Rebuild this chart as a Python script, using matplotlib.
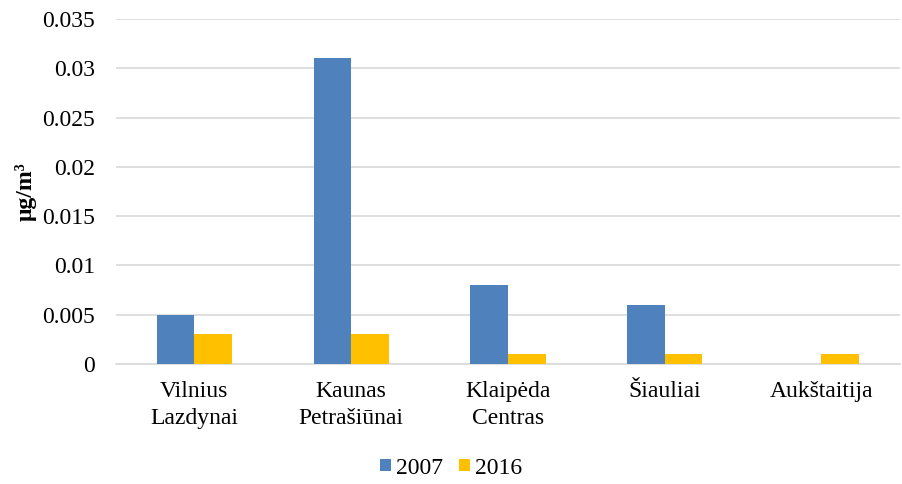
import matplotlib
matplotlib.use("Agg")
import matplotlib.pyplot as plt
import numpy as np

categories = ["Vilnius\nLazdynai", "Kaunas\nPetrašiūnai", "Klaipėda\nCentras", "Šiauliai", "Aukštaitija"]
values_2007 = [0.005, 0.031, 0.008, 0.006, 0.0]
values_2016 = [0.003, 0.003, 0.001, 0.001, 0.001]
series_labels = ["2007", "2016"]
y_ticks = [0, 0.005, 0.01, 0.015, 0.02, 0.025, 0.03, 0.035]
y_tick_labels = ["0", "0.005", "0.01", "0.015", "0.02", "0.025", "0.03", "0.035"]

plt.rcParams['font.family'] = ['Liberation Serif', 'DejaVu Serif']

fig = plt.figure(figsize=(9.02, 4.84), dpi=100)
ax = fig.add_axes([0.1286, 0.248, 0.869, 0.7128])

x = np.arange(len(categories))
w = 0.24
ax.bar(x - w/2, values_2007, width=w, color="#4F81BD", label=series_labels[0], zorder=3)
ax.bar(x + w/2, values_2016, width=w, color="#FFC000", label=series_labels[1], zorder=3)

ax.set_xlim(-0.5, len(categories) - 0.5)
ax.set_ylim(0, 0.035)
ax.set_yticks(y_ticks)
ax.set_yticklabels(y_tick_labels, fontsize=17)
ax.set_xticks(x)
ax.set_xticklabels(categories, fontsize=17, linespacing=1.4)
ax.tick_params(axis='both', length=0)
ax.tick_params(axis='y', pad=15)
ax.tick_params(axis='x', pad=12)
ax.yaxis.grid(True, color="#D9D9D9", linewidth=1.2, zorder=0)
for s in ["top", "right", "left"]:
    ax.spines[s].set_visible(False)
ax.spines["bottom"].set_color("#D9D9D9")
ax.spines["bottom"].set_linewidth(1.2)

fig.text(26/902, 1 - 192/484, "μg/m³", fontsize=17, fontweight="bold",
         rotation=90, ha="center", va="center")

leg = fig.legend(loc="center", bbox_to_anchor=(0.5, 1 - 468/484), ncol=2, frameon=False,
                 fontsize=17, handlelength=0.45, handleheight=0.45, handletextpad=0.2,
                 columnspacing=0.7)

fig.savefig("out.png", dpi=100)
